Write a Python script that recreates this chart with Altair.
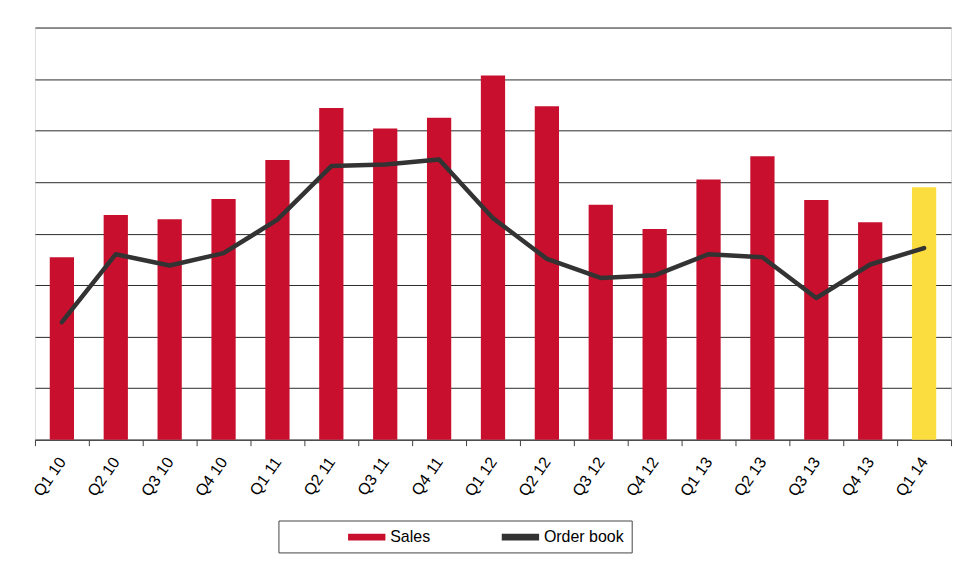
import altair as alt
import pandas as pd

quarters = ["Q1 10", "Q2 10", "Q3 10", "Q4 10", "Q1 11", "Q2 11", "Q3 11", "Q4 11",
            "Q1 12", "Q2 12", "Q3 12", "Q4 12", "Q1 13", "Q2 13", "Q3 13", "Q4 13", "Q1 14"]
sales = [3.54, 4.36, 4.28, 4.67, 5.43, 6.44, 6.04, 6.25, 7.07, 6.47,
         4.56, 4.09, 5.05, 5.50, 4.65, 4.22, 4.90]
order_book = [2.28, 3.60, 3.38, 3.62, 4.27, 5.31, 5.34, 5.44, 4.30, 3.51,
              3.14, 3.19, 3.60, 3.54, 2.75, 3.40, 3.72]
bar_key = ["Sales"] * 16 + ["Highlight"]

df = pd.DataFrame({"quarter": quarters, "sales": sales, "order": order_book,
                   "key": bar_key, "line_key": ["Order book"] * len(quarters)})

color_scale = alt.Scale(domain=["Sales", "Order book", "Highlight"],
                        range=["#c8102e", "#333333", "#fcdd3f"])

x = alt.X("quarter:N", sort=quarters, title=None,
          scale=alt.Scale(paddingInner=0, paddingOuter=0))

bars = alt.Chart(df).mark_bar(width=alt.RelativeBandSize(0.45)).encode(
    x=x,
    y=alt.Y("sales:Q", scale=alt.Scale(domain=[0, 8], nice=False), title=None,
            axis=alt.Axis(values=[0, 1, 2, 3, 4, 5, 6, 7, 8])),
    color=alt.Color("key:N", scale=color_scale,
                    legend=alt.Legend(values=["Sales", "Order book"], title=None,
                                      orient="none", legendX=244, legendY=494,
                                      direction="horizontal",
                                      symbolType="M-2,-0.36L2,-0.36L2,0.36L-2,0.36Z",
                                      symbolSize=350, symbolStrokeWidth=0,
                                      symbolOffset=72, labelOffset=14,
                                      labelFont="Liberation Sans", labelFontSize=16,
                                      labelColor="#000000", columnPadding=8,
                                      strokeColor="#444444", padding=7)),
)

line = alt.Chart(df).mark_line(strokeWidth=4.5, strokeJoin="round", strokeCap="round").encode(
    x=x,
    y=alt.Y("order:Q"),
    color=alt.Color("line_key:N", scale=color_scale, legend=None),
)

chart = alt.layer(bars, line).properties(
    width=918, height=413,
    padding={"left": 20, "top": 19, "right": 12, "bottom": 6},
).configure_view(stroke="#8c8c8c", strokeWidth=2).configure(
    background="white"
).configure_axisX(
    labelAngle=-55, tickBand="extent", labelFontSize=16,
    labelFont="Liberation Sans", labelColor="#000000",
    domainColor="#404040", tickColor="#404040", tickSize=6,
    labelPadding=13, grid=False
).configure_axisY(
    labels=False, ticks=False, domain=False, gridColor="#2b2b2b",
    gridWidth=1, gridOpacity=1
)

chart.save("out.html", embed_options={"renderer": "svg", "actions": False})
